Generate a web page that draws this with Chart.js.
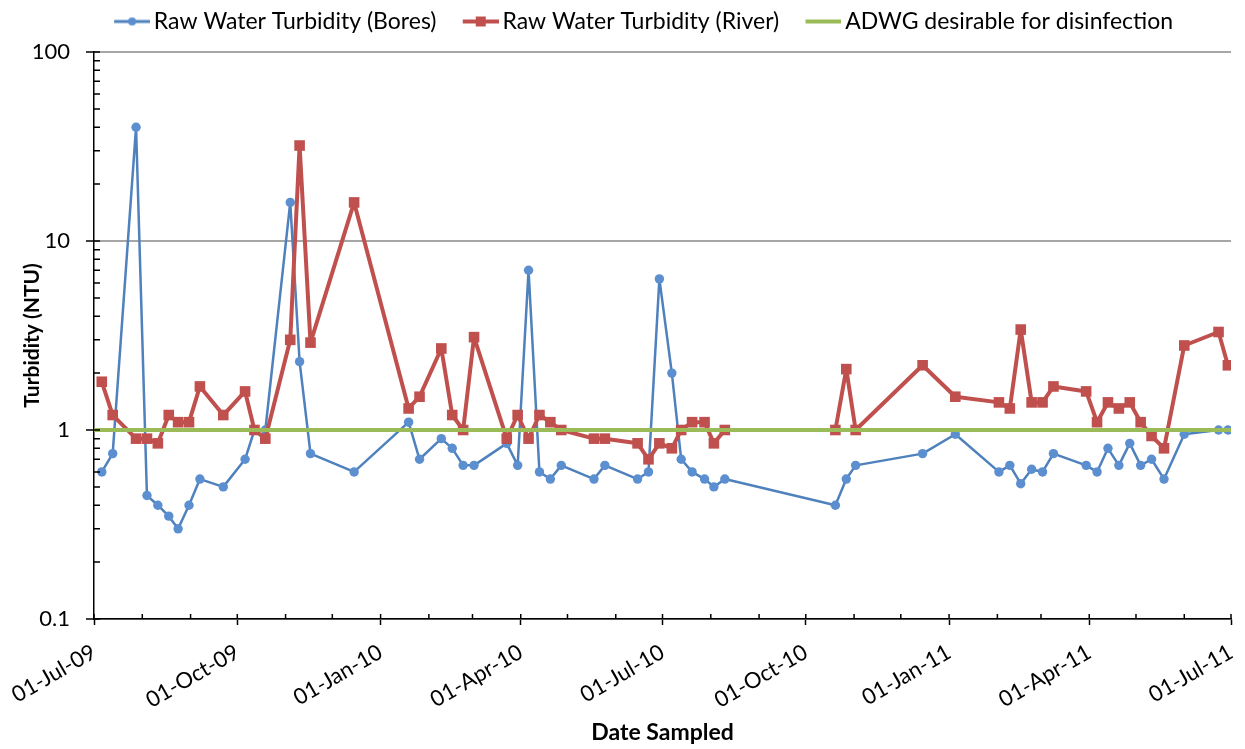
<!DOCTYPE html>
<html><head><meta charset="utf-8">
<script src="https://cdn.jsdelivr.net/npm/chart.js@4/dist/chart.umd.min.js"></script>
<style>html,body{margin:0;padding:0;background:#fff}#wrap{width:1245px;height:749px}</style>
</head><body><div id="wrap"><canvas id="c" width="1245" height="749"></canvas></div>
<script>
// ---- data ----
const sampleDates = ['2009-07-06','2009-07-13','2009-07-28','2009-08-04','2009-08-11','2009-08-18','2009-08-24','2009-08-31','2009-09-07','2009-09-22',
'2009-10-06','2009-10-12','2009-10-19','2009-11-04','2009-11-10','2009-11-17','2009-12-15','2010-01-19','2010-01-26','2010-02-09',
'2010-02-16','2010-02-23','2010-03-02','2010-03-23','2010-03-30','2010-04-06','2010-04-13','2010-04-20','2010-04-27','2010-05-18',
'2010-05-25','2010-06-15','2010-06-22','2010-06-29','2010-07-07','2010-07-13','2010-07-20','2010-07-28','2010-08-03','2010-08-10',
'2010-10-20','2010-10-27','2010-11-02','2010-12-15','2011-01-05','2011-02-02','2011-02-09','2011-02-16','2011-02-23','2011-03-02',
'2011-03-09','2011-03-30','2011-04-06','2011-04-13','2011-04-20','2011-04-27','2011-05-04','2011-05-11','2011-05-19','2011-06-01',
'2011-06-23','2011-06-29'];
const boresNTU = [0.6,0.75,40,0.45,0.4,0.35,0.3,0.4,0.55,0.5,
0.7,1.0,1.0,16,2.3,0.75,0.6,1.1,0.7,0.9,
0.8,0.65,0.65,0.85,0.65,7.0,0.6,0.55,0.65,0.55,
0.65,0.55,0.6,6.3,2.0,0.7,0.6,0.55,0.5,0.55,
0.4,0.55,0.65,0.75,0.95,0.6,0.65,0.52,0.62,0.6,
0.75,0.65,0.6,0.8,0.65,0.85,0.65,0.7,0.55,0.95,
1.0,1.0];
const riverNTU = [1.8,1.2,0.9,0.9,0.85,1.2,1.1,1.1,1.7,1.2,
1.6,1.0,0.9,3.0,32,2.9,16,1.3,1.5,2.7,
1.2,1.0,3.1,0.9,1.2,0.9,1.2,1.1,1.0,0.9,
0.9,0.85,0.7,0.85,0.8,1.0,1.1,1.1,0.85,1.0,
1.0,2.1,1.0,2.2,1.5,1.4,1.3,3.4,1.4,1.4,
1.7,1.6,1.1,1.4,1.3,1.4,1.1,0.93,0.8,2.8,
3.3,2.2];
const guidelineNTU = 1;
const seriesNames = ['Raw Water Turbidity (Bores)','Raw Water Turbidity (River)','ADWG desirable for disinfection'];
const axisStartDate = '2009-07-01';
const axisEndDate = '2011-07-01';
const majorTickDates = ['2009-07-01','2009-10-01','2010-01-01','2010-04-01','2010-07-01','2010-10-01','2011-01-01','2011-04-01','2011-07-01'];
const majorTickLabels = ['01-Jul-09','01-Oct-09','01-Jan-10','01-Apr-10','01-Jul-10','01-Oct-10','01-Jan-11','01-Apr-11','01-Jul-11'];
const yTickValues = [0.1,1,10,100];
const yTickLabels = ['0.1','1','10','100'];

// ---- helpers ----
const DAY = 86400000;
function toUTC(s){const [y,m,d]=s.split('-').map(Number);return Date.UTC(y,m-1,d);}
const t0 = toUTC(axisStartDate);
const dayOf = s => Math.round((toUTC(s)-t0)/DAY);
const xMax = dayOf(axisEndDate);
const majorDays = majorTickDates.map(dayOf);
const minorDays = [];
{ const s = new Date(t0); for(let i=0;;i++){ const d = Date.UTC(s.getUTCFullYear(), s.getUTCMonth()+i, 1); const v = Math.round((d-t0)/DAY); if(v> xMax) break; minorDays.push(v);} }
const yTicksAll = [];
for(let e=-1;e<=2;e++){ for(let k=1;k<=9;k++){ const v = Number((k*Math.pow(10,e)).toPrecision(3)); if(v<=100) yTicksAll.push(v);} }
const isDecade = v => Math.abs(Math.log10(v)-Math.round(Math.log10(v)))<1e-9;

const FONT = 'Lato, "Open Sans", sans-serif';
const BLUE='#4F81BD', RED='#C0504D', GREEN='#9BBB59';

function legendIcon(kind){
  const c=document.createElement('canvas'); c.width=60; c.height=14;
  const g=c.getContext('2d'); g.lineCap='butt';
  const a=24,b=60,m=42;
  if(kind===0){ g.strokeStyle=BLUE; g.lineWidth=3; g.beginPath(); g.moveTo(a,7); g.lineTo(b,7); g.stroke();
    g.fillStyle='#5B8FD0'; g.beginPath(); g.arc(m,7,4,0,Math.PI*2); g.fill(); }
  else if(kind===1){ g.strokeStyle=RED; g.lineWidth=4; g.beginPath(); g.moveTo(a,7); g.lineTo(b,7); g.stroke();
    g.fillStyle=RED; g.fillRect(m-5,2,10,10); }
  else { g.strokeStyle=GREEN; g.lineWidth=4; g.beginPath(); g.moveTo(a,7); g.lineTo(b,7); g.stroke(); }
  return c;
}
const icons=[legendIcon(0),legendIcon(1),legendIcon(2)];

const innerTicks = {
  id:'innerTicks',
  afterDraw(chart){
    const {ctx, chartArea:a, scales:{x,y}} = chart;
    ctx.save(); ctx.strokeStyle='#000'; ctx.lineWidth=1.5; ctx.beginPath();
    x.ticks.forEach(t=>{const px=x.getPixelForValue(t.value); ctx.moveTo(px,a.bottom); ctx.lineTo(px,a.bottom-5);});
    y.ticks.forEach(t=>{const py=y.getPixelForValue(t.value); ctx.moveTo(a.left,py); ctx.lineTo(a.left+6,py);});
    ctx.stroke(); ctx.restore();
  }
};
const legendBox = {
  id:'legendBox',
  afterInit(chart){ const lg = chart.legend; if(!lg) return; const f = lg.fit.bind(lg); lg.fit = function(){ f(); this.height = 52; }; },
  afterLayout(chart){ if(chart.legend){ chart.legend.left += 40; } }
};

const pts = vals => sampleDates.map((d,i)=>({x:dayOf(d), y:vals[i]}));

new Chart(document.getElementById('c'),{
  type:'line',
  data:{datasets:[
    {label:seriesNames[0], data:pts(boresNTU), borderColor:BLUE, backgroundColor:BLUE, borderWidth:2.5, borderJoinStyle:'round',
     pointStyle:'circle', pointRadius:4.7, pointBorderWidth:0, pointBackgroundColor:'#5B8FD0', order:2, tension:0},
    {label:seriesNames[1], data:pts(riverNTU), borderColor:RED, backgroundColor:RED, borderWidth:4, borderJoinStyle:'round',
     pointStyle:'rect', pointRadius:7.5, pointBorderWidth:0, pointBackgroundColor:RED, order:1, tension:0},
    {label:seriesNames[2], data:[{x:0,y:guidelineNTU},{x:xMax,y:guidelineNTU}], borderColor:GREEN, backgroundColor:GREEN,
     borderWidth:4, pointRadius:0, order:0}
  ]},
  options:{
    responsive:false, animation:false, devicePixelRatio:1,
    layout:{padding:{top:0,left:0,right:14,bottom:0}},
    plugins:{
      tooltip:{enabled:false},
      legend:{position:'top', align:'center',
        labels:{usePointStyle:true, pointStyleWidth:44.5, padding:10, color:'#000', font:{family:FONT,size:23},
          sort:(a,b)=>a.datasetIndex-b.datasetIndex,
          generateLabels:(chart)=>{
            const items = Chart.defaults.plugins.legend.labels.generateLabels(chart);
            items.forEach(it=>{ it.pointStyle = icons[it.datasetIndex]; it.lineWidth=0; });
            return items;
          }}
      }
    },
    scales:{
      x:{type:'linear', min:0, max:xMax,
        afterBuildTicks:(s)=>{ s.ticks = minorDays.map(v=>({value:v, major: majorDays.includes(v)})); },
        afterFit:(s)=>{ s.height = 130; s.paddingLeft = 0; s.paddingRight = 0; },
        ticks:{autoSkip:false, maxRotation:30, minRotation:30, color:'#000', padding:14,
          font:{family:FONT,size:22},
          callback:(v)=>{ const i=majorDays.indexOf(v); return i>=0? majorTickLabels[i] : ''; }},
        grid:{drawOnChartArea:false, drawTicks:true, tickLength:6,
          tickColor:(c)=> (c.tick && majorDays.includes(c.tick.value)) ? '#000' : 'rgba(0,0,0,0)', tickWidth:1.5},
        border:{display:true, color:'#000', width:1.5},
        title:{display:true, text:'Date Sampled', color:'#000', font:{family:FONT,size:23,weight:'bold'}, padding:{top:0,bottom:3}}
      },
      y:{type:'logarithmic', min:0.1, max:100,
        afterBuildTicks:(s)=>{ s.ticks = yTicksAll.map(v=>({value:v, major:isDecade(v)})); },
        afterFit:(s)=>{ s.width = 94; },
        ticks:{autoSkip:false, color:'#000', padding:16, font:{family:FONT,size:22},
          callback:(v)=>{ const i=yTickValues.findIndex(t=>Math.abs(t-v)<1e-9); return i>=0? yTickLabels[i] : ''; }},
        grid:{drawOnChartArea:true, drawTicks:true, tickLength:8,
          color:(c)=> (c.tick && isDecade(c.tick.value)) ? '#A6A6A6' : 'rgba(0,0,0,0)', lineWidth:2,
          tickColor:(c)=> (c.tick && isDecade(c.tick.value)) ? '#000' : 'rgba(0,0,0,0)', tickWidth:1.5},
        border:{display:true, color:'#000', width:1.5},
        title:{display:true, text:'Turbidity (NTU)', color:'#000', font:{family:FONT,size:21,weight:'bold'}, padding:{top:20,bottom:0}}
      }
    }
  },
  plugins:[innerTicks, legendBox]
});
</script></body></html>
